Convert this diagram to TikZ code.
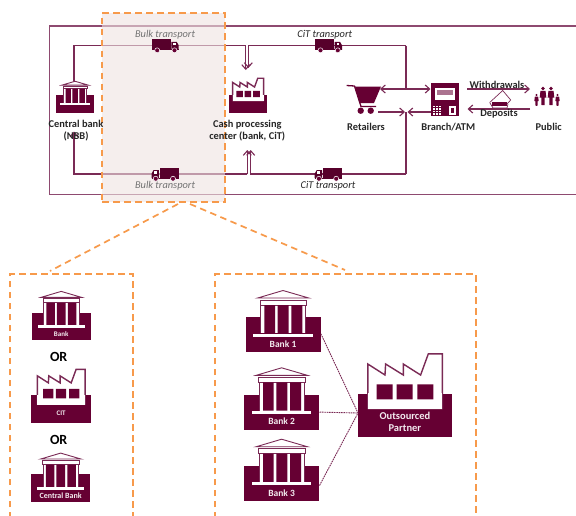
\documentclass[tikz,border=0pt]{standalone}
\usepackage{fontspec}
\setmainfont{Carlito}
\usetikzlibrary{arrows.meta}
\definecolor{maroon}{HTML}{660033}
\definecolor{lineM}{HTML}{7A2A55}
\definecolor{frameM}{HTML}{8E4A70}
\definecolor{orangeD}{HTML}{F79A4B}
\definecolor{txt}{HTML}{262626}
\definecolor{bandfill}{HTML}{EFE3E1}
\tikzset{
  route/.style={draw=lineM,line width=1.1pt},
  flow/.style={route,-{Straight Barb[length=4.5pt,width=8pt]}},
  flowboth/.style={route,{Straight Barb[length=4.5pt,width=8pt]}-{Straight Barb[length=4.5pt,width=8pt]}},
  orangedash/.style={draw=orangeD,line width=1.7pt,dash pattern=on 6.5pt off 4.5pt},
  linkdash/.style={draw=lineM,line width=.9pt,dash pattern=on 1.6pt off .8pt},
  lab/.style={font=\bfseries\fontsize{10.4}{12.3}\selectfont,text=txt,inner sep=0pt,align=center},
  ital/.style={font=\itshape\fontsize{10.4}{12}\selectfont,inner sep=0pt},
  orlab/.style={font=\bfseries\fontsize{14}{16}\selectfont,text=black,inner sep=0pt},
  block/.style={fill=maroon,inner sep=0pt,transform shape},
  inlab/.style={text=white!92!maroon,inner sep=0pt,align=center},
}
% name, x, y, scale, label, font size
\newcommand{\bankicon}[6]{%
\begin{scope}[shift={(#2,#3)},scale=#4]
  \node[block,minimum width=75pt,minimum height=35pt] (#1) at (37.5,44.8) {};
  \fill[white] (15,10) rectangle (60,43.3);
  \draw[lineM,line width=.9pt,fill=white,line join=miter] (12,8) -- (37.3,0.5) -- (63,8) -- cycle;
  \draw[lineM,line width=.9pt,fill=white] (14.5,10) rectangle (61,15);
  \fill[maroon] (18.7,15) rectangle (29.3,43.3) (32,15) rectangle (43,43.3) (45.7,15) rectangle (56.7,43.3);
  \draw[lineM,line width=.5pt] (15,15) -- (15,43.3) (60,15) -- (60,43.3);
  \fill[white] (7.7,43.6) rectangle (67,46.7);
  \node[inlab,font=\bfseries\fontsize{#6}{12}\selectfont] (#1-t) at (37.3,54.3) {#5};
\end{scope}}
\newcommand{\factoryicon}[6]{%
\begin{scope}[shift={(#2,#3)},scale=#4]
  \node[block,minimum width=93.3pt,minimum height=43.3pt] (#1) at (46.65,62.35) {};
  \draw[lineM,line width=1.4pt,fill=white,line join=miter]
    (9.5,55.7) -- (9.5,10.7) -- (26.7,21.7) -- (27.3,10.7) -- (45,21.7) -- (45,10.7) -- (62.3,21.7) -- (70,.6) -- (84,.6) -- (84,55.7);
  \fill[white] (9.5,40) rectangle (84,55.7);
  \fill[maroon] (18.3,31) rectangle (34.3,46) (38.3,31) rectangle (54.3,46) (59,31) rectangle (75,46);
  \node[inlab,font=\bfseries\fontsize{#6}{12}\selectfont] (#1-t) at (46.6,69) {#5};
\end{scope}}
% x, y, reflected?
\newcommand{\truckicon}[3]{%
\begin{scope}[shift={(#1,#2)},xscale=#3]
  \fill[maroon!85!black] (0,0) rectangle (19,10);
  \fill[maroon!85!black] (19.6,2.5) -- (25,2.5) -- (27,6) -- (27,10.5) -- (19.6,10.5) -- cycle;
  \fill[white] (21.5,3.5) rectangle (24.3,6);
  \fill[maroon!85!black] (0,9.8) rectangle (27,10.8);
  \draw[white,line width=.5pt,fill=maroon] (5.5,11) circle (2.5) (22.8,11) circle (2.5);
\end{scope}}
\newcommand{\personicon}[3]{%
  \fill[maroon] (#1,#2) circle (1.6*#3);
  \fill[maroon] (#1-2.2*#3,#2+2*#3) -- (#1+2.2*#3,#2+2*#3) -- (#1+2.9*#3,#2+8*#3) -- (#1+1.5*#3,#2+8*#3) -- (#1+1.3*#3,#2+14.5*#3) -- (#1-1.3*#3,#2+14.5*#3) -- (#1-1.5*#3,#2+8*#3) -- (#1-2.9*#3,#2+8*#3) -- cycle;}
\begin{document}
\begin{tikzpicture}[x=1pt,y=-1pt]
\useasboundingbox (0,0) rectangle (576,515);
\fill[white] (0,0) rectangle (576,515);
% outer frame
\draw[frameM,line width=1.4pt] (580,26) -- (49.5,26) -- (49.5,194.7) -- (580,194.7);
% named junctions
\coordinate (cbTop) at (74,81);
\coordinate (cbBot) at (74,131.5);
\coordinate (tl) at (74,45.7);
\coordinate (bl) at (74,174);
\coordinate (cpTopA) at (245.8,70);
\coordinate (cpTopB) at (248.3,45.7);
\coordinate (cpBotA) at (247.3,150);
\coordinate (cpBotB) at (250.7,174);
\coordinate (tr) at (406,45.7);
\coordinate (br) at (406,174);
\coordinate (j1) at (406,89);
\coordinate (j2) at (406,112);
\coordinate (retA) at (380,89);
\coordinate (atmA) at (430.5,89);
\coordinate (retB) at (378,112);
\coordinate (atmB) at (430.5,112);
\coordinate (wA) at (467.3,89);
\coordinate (wB) at (530,89);
\coordinate (dA) at (530,109);
\coordinate (dB) at (467.5,109);
% connectors
\draw[route] (cbTop) -- (tl) -- (245.8,45.7);
\draw[flow] (245.8,45.7) -- (cpTopA);
\draw[flow] (tr) -- (cpTopB) -- (248.3,68) ;
\draw[route] (tr) -- (j1);
\draw[flowboth] (retA) -- (atmA);
\draw[flow] (247.3,174) -- (bl) -- (cbBot);
\draw[flow] (247.3,174) -- (cpBotA);
\draw[flow] (br) -- (cpBotB) -- (250.7,150);
\draw[route] (br) -- (j2);
\draw[flow] (retB) -- (405,112);
\draw[flow] (atmB) -- (407.5,112);
\draw[flow] (wA) -- (wB);
\draw[flow] (dA) -- (dB);
% highlight band
\fill[bandfill,opacity=.6] (102,13.3) rectangle (225.3,202.3);
\node[orangedash,rectangle,minimum width=123.3pt,minimum height=189pt,inner sep=0pt] (band) at (163.65,107.8) {};
% trucks
\truckicon{151.7}{39.3}{1}
\truckicon{178.5}{167.7}{-1}
\truckicon{315}{39.3}{1}
\truckicon{341.7}{167.7}{-1}
% central icons
\bankicon{cb}{56}{81}{.51}{}{6}
\factoryicon{cp}{228.7}{78}{.415}{}{6}
% cart
\draw[maroon,line width=1.3pt,line join=round] (346.7,85.5) -- (354.5,86) -- (361,106.5) -- (376,106.5);
\fill[maroon] (355,86.5) -- (381,86.5) -- (374,103) -- (359.5,103) -- cycle;
\fill[maroon] (360.7,110.7) circle (3.2) (370.7,110.7) circle (3.2);
% ATM
\fill[maroon] (430.7,82.7) rectangle (459,116);
\fill[white] (435,87.5) rectangle (455,100);
\fill[maroon!55] (437,90) rectangle (453,94.5);
\foreach \i in {0,1,2} \foreach \j in {0,1,2,3} \fill[white] (433.2+3*\i,105.5+2.6*\j) rectangle +(2,1.7);
\fill[white] (449,105.5) rectangle (456,115);
\fill[maroon] (451,108) rectangle (454,113);
% hand and note
\draw[lineM,line width=.7pt,fill=white] (489.7,102.5) -- (502.7,90.5) -- (510.7,100) -- (506,105);
\fill[maroon] (492,102) rectangle (507,105.5);
\draw[lineM,line width=.7pt] (490,103) -- (493,108) -- (507,108) -- (508,104);
% people
\personicon{536.5}{95}{.75}
\personicon{543}{88.5}{1.15}
\personicon{551}{88.5}{1.15}
\personicon{557.5}{95}{.75}
% top labels
\node[ital,text=gray!90!black] (bulkT) at (165,34.7) {Bulk transport};
\node[ital,text=gray!90!black] (bulkB) at (165,185.7) {Bulk transport};
\node[ital,text=txt] (citT) at (324.7,35) {CiT transport};
\node[ital,text=txt] (citB) at (328,185.3) {CiT transport};
\node[lab] (cbL) at (76,130.5) {Central bank\\(NBB)};
\node[lab] (cpL) at (247.3,130.5) {Cash processing\\center (bank, CiT)};
\node[lab] (retL) at (366,127) {Retailers};
\node[lab] (atmL) at (448.3,127) {Branch/ATM};
\node[lab] (pubL) at (548.7,127) {Public};
\node[lab] (wL) at (497,85) {Withdrawals};
\node[lab] (dL) at (499,114) {Deposits};
% lower boxes
\coordinate (bandL) at (178,204);
\coordinate (bandR) at (190,204);
\coordinate (boxL) at (50,271);
\coordinate (boxR) at (345,270);
\draw[orangedash] (bandL) -- (boxL);
\draw[orangedash] (bandR) -- (boxR);
\draw[orangedash] (10.3,518) -- (10.3,274) -- (133.3,274) -- (133.3,518);
\draw[orangedash] (214.7,518) -- (214.7,274.3) -- (476,274.3) -- (476,518);
% left box
\bankicon{b0}{31.7}{291}{.79}{Bank}{7}
\node[orlab] (or1) at (58.7,357) {OR};
\factoryicon{c0}{31.3}{369}{.64}{CIT}{7}
\node[orlab] (or2) at (58.7,440.3) {OR};
\bankicon{c1}{31.2}{452.7}{.79}{Central Bank}{8}
% right box
\bankicon{b1}{245.7}{290}{1}{Bank 1}{9.5}
\bankicon{b2}{244.3}{367.3}{1}{Bank 2}{9.5}
\bankicon{b3}{244.3}{438.7}{1}{Bank 3}{9.5}
\factoryicon{op}{358.3}{353.3}{1}{Outsourced\\Partner}{10.5}
\coordinate (opIn) at (358,413);
\draw[linkdash] (b1.east) ++(0,-1) -- (opIn);
\draw[linkdash] (b2.east) -- (opIn);
\draw[linkdash] (b3.east) ++(0,2) -- (opIn);
\end{tikzpicture}
\end{document}
